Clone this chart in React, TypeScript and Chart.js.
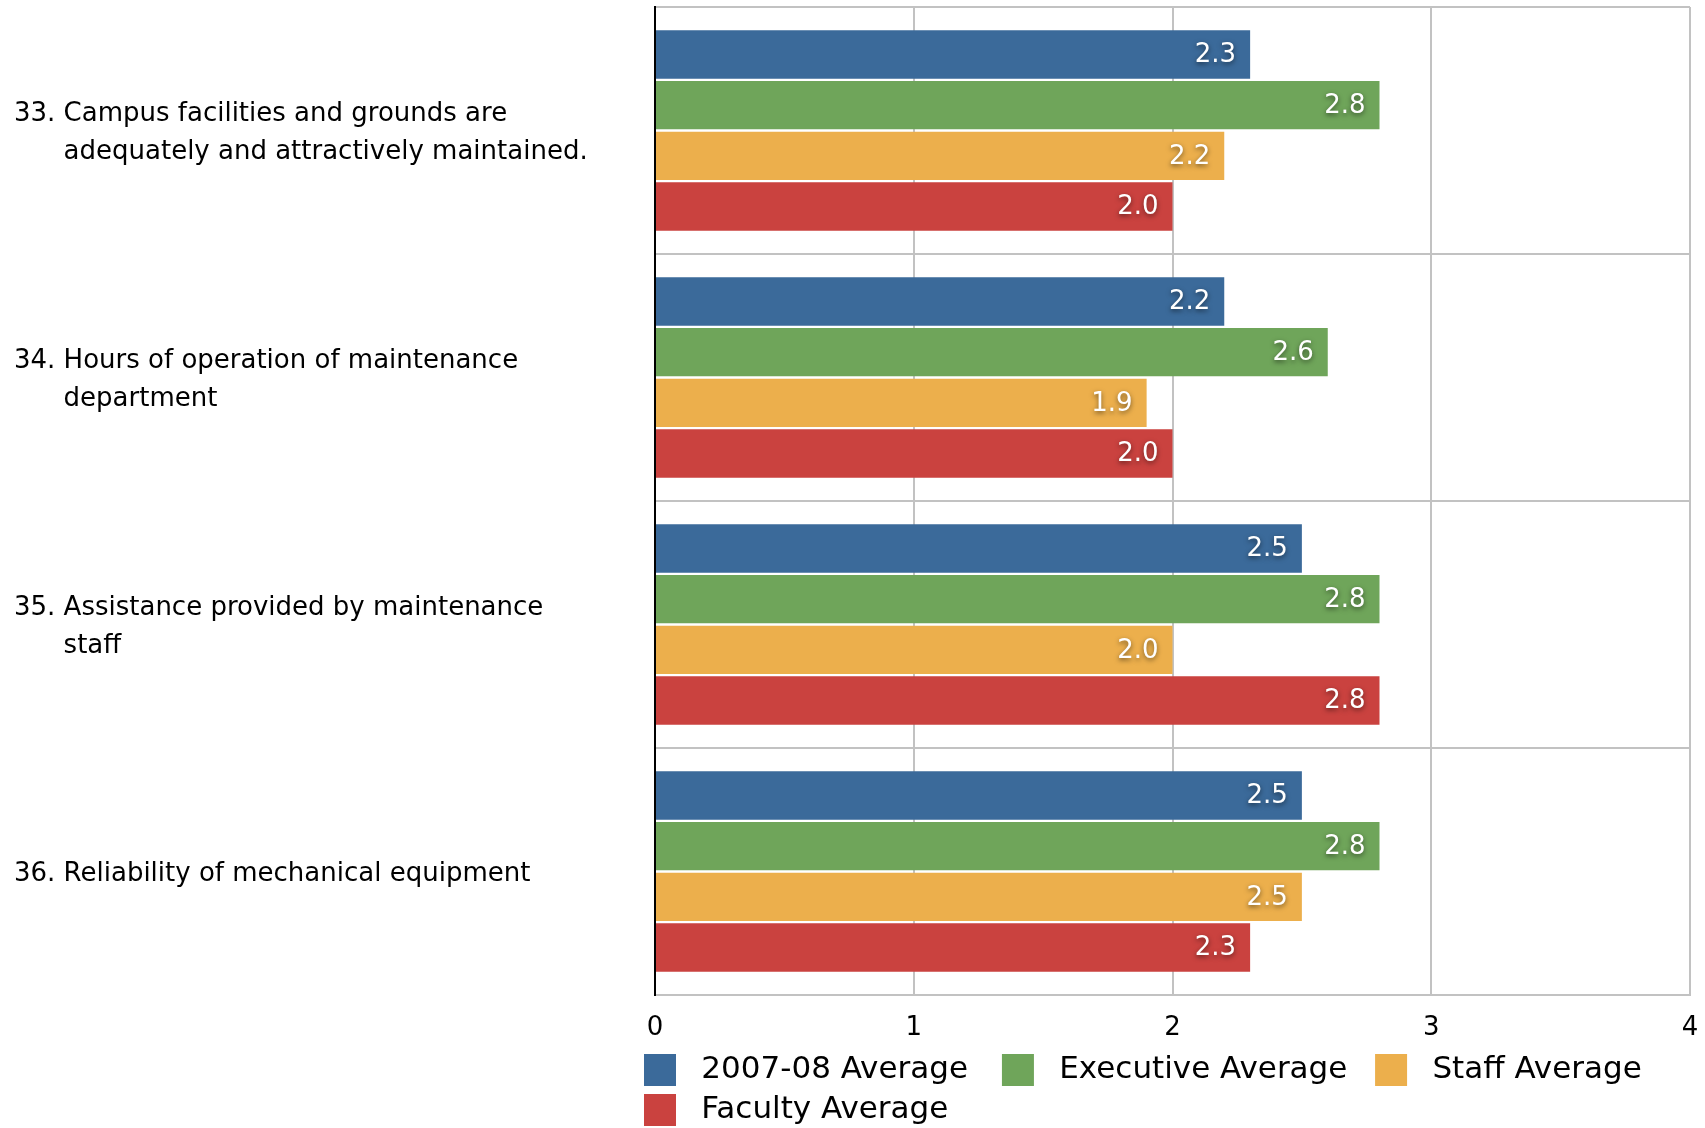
import React, { useEffect, useRef } from 'react';
import { Chart, registerables } from 'chart.js';

Chart.register(...registerables);

// ---------- data ----------
const CATEGORIES: (string | string[])[] = [
  ['33. Campus facilities and grounds are', '      adequately and attractively maintained.'],
  ['34. Hours of operation of maintenance', '      department'],
  ['35. Assistance provided by maintenance', '      staff'],
  '36. Reliability of mechanical equipment',
];
const SERIES_NAMES = ['2007-08 Average', 'Executive Average', 'Staff Average', 'Faculty Average'];
const AVG_2007_08 = [2.3, 2.2, 2.5, 2.5];
const EXECUTIVE_AVG = [2.8, 2.6, 2.8, 2.8];
const STAFF_AVG = [2.2, 1.9, 2.0, 2.5];
const FACULTY_AVG = [2.0, 2.0, 2.8, 2.3];
const X_MIN = 0;
const X_MAX = 4;
const X_STEP = 1;

// ---------- style ----------
const COLORS = ['#3B6A9A', '#6FA55A', '#ECAF4C', '#CA423F'];
const FONT = 'DejaVu Sans';
const GRID = '#c2c2c2';
const LEGEND_TRAIL = ['  \u2009', '  ', '', ''];

const valueLabels = {
  id: 'valueLabels',
  afterDatasetsDraw(chart: any) {
    const ctx = chart.ctx;
    ctx.save();
    ctx.font = `26px "${FONT}"`;
    ctx.fillStyle = '#ffffff';
    ctx.textAlign = 'right';
    ctx.textBaseline = 'middle';
    ctx.shadowColor = 'rgba(0,0,0,0.55)';
    ctx.shadowBlur = 5;
    ctx.shadowOffsetY = 2;
    chart.data.datasets.forEach((ds: any, di: number) => {
      const meta = chart.getDatasetMeta(di);
      if (meta.hidden) return;
      meta.data.forEach((bar: any, i: number) => {
        const v = ds.data[i] as number;
        ctx.fillText(v.toFixed(1), bar.x - 14, bar.y + 1);
      });
    });
    ctx.restore();
  },
};

const legendShift = {
  id: 'legendShift',
  afterLayout(chart: any) {
    const lg = chart.legend;
    if (!lg) return;
    const pad = lg.options.labels.padding;
    lg.left = chart.chartArea.left - 11 - pad;
    lg.right = chart.width;
    lg.top = chart.height - 74 - pad;
    lg.bottom = lg.top + lg.height;
  },
};

export default function App() {
  const ref = useRef<HTMLCanvasElement>(null);
  useEffect(() => {
    const seriesValues = [AVG_2007_08, EXECUTIVE_AVG, STAFF_AVG, FACULTY_AVG];
    const chart = new Chart(ref.current as HTMLCanvasElement, {
      type: 'bar',
      data: {
        labels: CATEGORIES as any,
        datasets: SERIES_NAMES.map((name, i) => ({
          label: name,
          data: seriesValues[i],
          backgroundColor: COLORS[i],
          borderWidth: 0,
          categoryPercentage: 0.82,
          barPercentage: 0.955,
        })),
      },
      options: {
        indexAxis: 'y',
        animation: false,
        responsive: true,
        maintainAspectRatio: false,
        layout: { padding: { left: 14, right: 15, top: 7, bottom: 0 } },
        scales: {
          x: {
            min: X_MIN,
            max: X_MAX,
            ticks: {
              stepSize: X_STEP,
              autoSkip: false,
              color: '#000',
              padding: 18,
              font: { family: FONT, size: 26 },
            },
            grid: { color: GRID, lineWidth: 2, drawTicks: false },
            border: { color: GRID, width: 2 },
            afterFit: (scale: any) => {
              scale.height = 43;
              scale.paddingLeft = 0;
              scale.paddingRight = 0;
            },
          },
          y: {
            z: 1,
            ticks: {
              color: '#000',
              crossAlign: 'far',
              autoSkip: false,
              labelOffset: 3,
              font: { family: FONT, size: 26, lineHeight: 1.45 },
            },
            grid: { color: GRID, lineWidth: 2, drawTicks: false, offset: true },
            border: { color: '#000', width: 2 },
            afterFit: (scale: any) => {
              scale.width = 641;
              scale.paddingTop = 0;
              scale.paddingBottom = 0;
            },
          },
        },
        plugins: {
          tooltip: { enabled: false },
          legend: {
            position: 'bottom',
            align: 'start',
            fullSize: false,
            labels: {
              boxWidth: 32,
              boxHeight: 32,
              padding: 8,
              color: '#000',
              font: { family: FONT, size: 31 },
              generateLabels: (c: any) =>
                Chart.defaults.plugins.legend.labels
                  .generateLabels(c)
                  .map((it: any, i: number) => ({ ...it, text: ' ' + it.text + (LEGEND_TRAIL[i] || '') })),
            },
          },
        },
      },
      plugins: [valueLabels, legendShift],
    } as any);
    return () => chart.destroy();
  }, []);

  return (
    <div style={{ position: 'absolute', left: 0, top: 0, width: 1705, height: 1128, background: '#fff' }}>
      <canvas ref={ref} />
    </div>
  );
}
